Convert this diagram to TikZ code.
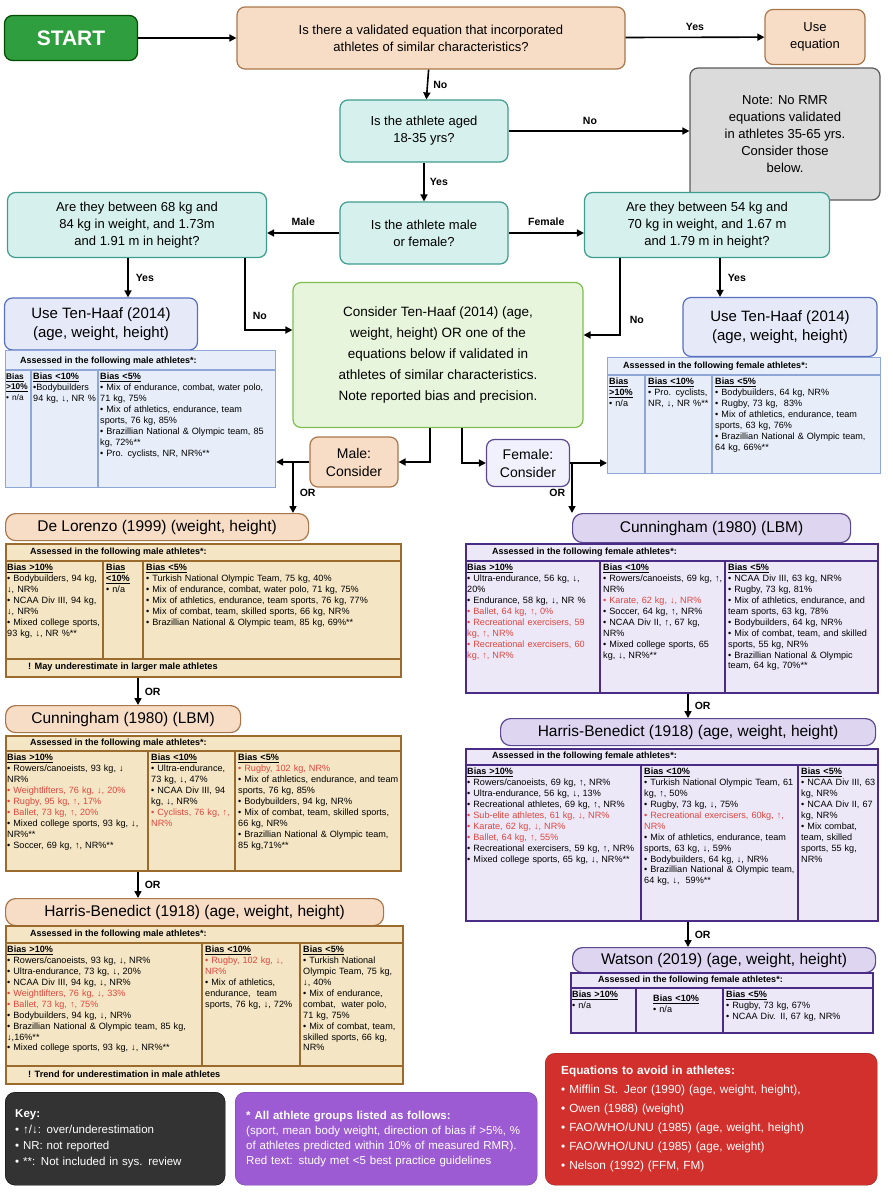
\documentclass[tikz,border=0pt]{standalone}
\usepackage{fontspec}
\setmainfont{Liberation Sans}
\usetikzlibrary{arrows.meta,calc}
\definecolor{bluefill}{HTML}{E8EEF9}\definecolor{bluedraw}{HTML}{8EA6D8}
\definecolor{begfill}{HTML}{F4E6C4}\definecolor{begdraw}{HTML}{9A6B2D}
\definecolor{purfill}{HTML}{ECE8F7}\definecolor{purdraw}{HTML}{4A2C86}
\definecolor{orfill}{HTML}{F7DDC6}\definecolor{ordraw}{HTML}{A9764A}
\definecolor{ptfill}{HTML}{DED6F1}\definecolor{ptdraw}{HTML}{5C4791}
\definecolor{tealfill}{HTML}{D6F1ED}\definecolor{tealdraw}{HTML}{3E9C8E}
\definecolor{grfill}{HTML}{E8F5DD}\definecolor{grdraw}{HTML}{7DBE4E}
\definecolor{utfill}{HTML}{E5E9F8}\definecolor{utdraw}{HTML}{5870C0}
\definecolor{redt}{HTML}{E0463F}
\definecolor{pkfill}{HTML}{9C5BD3}\definecolor{avfill}{HTML}{D1302C}
\definecolor{stfill}{HTML}{2F9E3F}
\newcommand\biashd[1]{\underline{\textbf{#1}}}
\newcommand\redtx[1]{\textcolor{redt}{#1}}
\newcommand\cellfnt{\fontsize{9.1}{10.9}\selectfont\hyphenpenalty=10000\relax}
\begin{document}
\begin{tikzpicture}[x=1pt,y=-1pt,
 arr/.style={-{Triangle[length=7pt,width=7pt]},line width=1.6pt,black},
 box/.style={draw,rounded corners=8pt,line width=1.2pt,align=center,font=\fontsize{13}{17}\selectfont,inner sep=2pt},
 lab/.style={font=\bfseries\fontsize{10.5}{12}\selectfont,inner sep=1pt},
 ttl/.style={box,rounded corners=10pt,font=\fontsize{15.5}{18}\selectfont,anchor=north west},
 tbl/.style={draw,anchor=north west,inner sep=0pt},
 hdr/.style={anchor=west,font=\bfseries\fontsize{9}{10}\selectfont,inner sep=0pt},
 cell/.style={anchor=north west,align=left,font=\cellfnt,inner sep=1pt,text width=#1},
 note/.style={anchor=west,font=\bfseries\fontsize{9.2}{10}\selectfont,inner sep=0pt}]
\useasboundingbox (0,0) rectangle (893,1200);
% top nodes
\node[box,fill=stfill,draw=green!30!black,minimum width=133,minimum height=45,text=white,font=\bfseries\fontsize{21}{24}\selectfont] (start) at (71,38) {START};
\node[box,fill=orfill,draw=ordraw,minimum width=388,minimum height=62] (q1) at (431,38) {Is there a validated equation that incorporated\\athletes of similar characteristics?};
\node[box,fill=orfill,draw=ordraw,minimum width=100,minimum height=55] (ueq) at (815,37) {Use\\equation};
\node[box,fill=tealfill,draw=tealdraw,minimum width=168,minimum height=62] (q2) at (424,131) {Is the athlete aged\\18-35 yrs?};
\node[box,fill=gray!28,draw=gray!70!black,minimum width=190,minimum height=132] (nt) at (785,134) {Note: No RMR\\equations validated\\in athletes 35-65 yrs.\\Consider those\\below.};
\node[box,fill=tealfill,draw=tealdraw,minimum width=168,minimum height=62] (q3) at (424,233) {Is the athlete male\\or female?};
\node[box,fill=tealfill,draw=tealdraw,minimum width=259,minimum height=65] (m) at (137,225) {Are they between 68 kg and\\84 kg in weight, and 1.73m\\and 1.91 m in height?};
\node[box,fill=tealfill,draw=tealdraw,minimum width=245,minimum height=65] (f) at (707,225) {Are they between 54 kg and\\70 kg in weight, and 1.67 m\\and 1.79 m in height?};
\node[box,fill=utfill,draw=utdraw,minimum width=193,minimum height=52,font=\fontsize{15}{19}\selectfont] (uthm) at (101,324) {Use Ten-Haaf (2014)\\(age, weight, height)};
\node[box,fill=utfill,draw=utdraw,minimum width=194,minimum height=59,font=\fontsize{15}{19}\selectfont] (uthf) at (780,327) {Use Ten-Haaf (2014)\\(age, weight, height)};
\node[box,fill=grfill,draw=grdraw,minimum width=290,minimum height=145,font=\fontsize{13.5}{21}\selectfont] (c) at (438,355) {Consider Ten-Haaf (2014) (age,\\weight, height) OR one of the\\equations below if validated in\\athletes of similar characteristics.\\Note reported bias and precision.};
\node[box,fill=orfill,draw=ordraw,minimum width=88,minimum height=50,font=\fontsize{14}{18}\selectfont] (mc) at (354,462) {Male:\\Consider};
\node[box,fill=utfill!80!blue!20,draw=ptdraw,minimum width=83,minimum height=47,font=\fontsize{14}{18}\selectfont] (fc) at (528,463) {Female:\\Consider};
% top arrows
\draw[arr] (start) -- (q1);
\draw[arr] (q1) -- node[lab,above=5pt]{Yes} (ueq);
\draw[arr] (q1) -- node[lab,right=4pt]{No} (q2);
\draw[arr] (q2) -- node[lab,above=5pt,pos=0.45]{No} (nt.west|-q2.east);
\draw[arr] (q2) -- node[lab,right=4pt]{Yes} (q3);
\draw[arr] (q3.west) -- node[lab,above=6pt]{Male} (q3.west-|m.east);
\draw[arr] (q3.east) -- node[lab,above=6pt]{Female} (q3.east-|f.west);
\coordinate (mx) at (128,0);\coordinate (mno) at (245,330);
\coordinate (fx) at (720,0);\coordinate (fno) at (620,335);
\draw[arr] (m.south-|mx) -- node[lab,right=6pt]{Yes} (uthm.north-|mx);
\draw[arr] (f.south-|fx) -- node[lab,right=6pt]{Yes} (uthf.north-|fx);
\draw[arr] (m.south-|mno) |- node[lab,pos=0.4,right=6pt]{No} (c.west|-mno);
\draw[arr] (f.south-|fno) |- node[lab,pos=0.4,right=8pt]{No} (c.east|-fno);
\coordinate (c1) at (430,0);\coordinate (c2) at (462,0);
\draw[arr] (c.south-|c1) |- (mc.east);
\draw[arr] (c.south-|c2) |- (fc.west);
% Ten-Haaf male table
\node[tbl,fill=bluefill,draw=bluedraw,line width=1.2pt,minimum width=270,minimum height=137] (t1) at (5,350) {};
\draw[bluedraw,line width=1.2pt] (5,370)--(275,370) (31,370)--(31,487) (98,370)--(98,487);
\node[hdr] (t1h) at (20,361) {Assessed in the following male athletes*:};
\node[cell=25] (t1a) at (5,372) {\fontsize{8.3}{10}\selectfont\biashd{Bias}\\\biashd{>10\%}\\• n/a};
\node[cell=66] (t1b) at (32,372) {\biashd{Bias <10\%}\\•Bodybuilders 94 kg, ↓, NR \%};
\node[cell=172] (t1c) at (99,372) {\biashd{Bias <5\%}\\• Mix of endurance, combat, water polo, 71 kg, 75\%\\• Mix of athletics, endurance, team sports, 76 kg, 85\%\\• Brazillian National \& Olympic team, 85 kg, 72\%**\\• Pro. cyclists, NR, NR\%**};
% Ten-Haaf female table
\node[tbl,fill=bluefill,draw=bluedraw,line width=1.2pt,minimum width=273,minimum height=116] (t2) at (607,357) {};
\draw[bluedraw,line width=1.2pt] (607,375)--(880,375) (645,375)--(645,473) (712,375)--(712,473);
\node[hdr] (t2h) at (623,366) {Assessed in the following female athletes*:};
\node[cell=36] (t2a) at (608,377) {\biashd{Bias}\\\biashd{>10\%}\\• n/a};
\node[cell=64] (t2b) at (647,377) {\biashd{Bias <10\%}\\• Pro. cyclists, NR, ↓, NR \%**};
\node[cell=163] (t2c) at (714,377) {\biashd{Bias <5\%}\\• Bodybuilders, 64 kg, NR\%\\• Rugby, 73 kg,\ \ 83\%\\• Mix of athletics, endurance, team sports, 63 kg, 76\%\\• Brazillian National \& Olympic team, 64 kg, 66\%**};
\draw[arr] (mc.west) -- (mc.west-|t1.east);
\draw[arr] (fc.east) -- (fc.east-|t2.west);
% Left chain
\node[ttl,fill=orfill,draw=ordraw,minimum width=303,minimum height=27] (dlt) at (5,513) {De Lorenzo (1999) (weight, height)};
\coordinate (orl) at (293,462);\coordinate (orr) at (572,463);
\draw[arr] (orl) -- node[lab,right=5pt,pos=0.6]{OR} (orl|-dlt.north);
\node[tbl,fill=begfill,draw=begdraw,line width=2pt,minimum width=395,minimum height=133] (dl) at (5,543) {};
\draw[begdraw,line width=2pt] (5,561)--(400,561) (5,659)--(400,659) (103,561)--(103,659) (143,561)--(143,659);
\node[hdr] (dlh) at (30,552) {Assessed in the following male athletes*:};
\node[cell=95] (dla) at (6,563) {\biashd{Bias >10\%}\\• Bodybuilders, 94 kg, ↓, NR\%\\• NCAA Div III, 94 kg, ↓, NR\%\\• Mixed college sports, 93 kg, ↓, NR \%**};
\node[cell=37] (dlb) at (105,563) {\biashd{Bias}\\\biashd{<10\%}\\• n/a};
\node[cell=254] (dlc) at (145,563) {\biashd{Bias <5\%}\\• Turkish National Olympic Team, 75 kg, 40\%\\• Mix of endurance, combat, water polo, 71 kg, 75\%\\• Mix of athletics, endurance, team sports, 76 kg, 77\%\\• Mix of combat, team, skilled sports, 66 kg, NR\%\\• Brazillian National \& Olympic team, 85 kg, 69\%**};
\node[note] (dln) at (28,667) {! May underestimate in larger male athletes};
\node[ttl,fill=orfill,draw=ordraw,minimum width=235,minimum height=27] (cmt) at (5,705) {Cunningham (1980) (LBM)};
\coordinate (lx) at (138,0);
\draw[arr] (dl.south-|lx) -- node[lab,right=5pt]{OR} (cmt.north-|lx);
\node[tbl,fill=begfill,draw=begdraw,line width=2pt,minimum width=395,minimum height=135] (cm) at (5,735) {};
\draw[begdraw,line width=2pt] (5,751)--(400,751) (148,751)--(148,870) (235,751)--(235,870);
\node[hdr] (cmh) at (30,743) {Assessed in the following male athletes*:};
\node[cell=140] (cma) at (6,753) {\biashd{Bias >10\%}\\• Rowers/canoeists, 93 kg, ↓ NR\%\\\redtx{• Weightlifters, 76 kg, ↓, 20\%}\\\redtx{• Rugby, 95 kg, ↑, 17\%}\\\redtx{• Ballet, 73 kg, ↑, 20\%}\\• Mixed college sports, 93 kg, ↓, NR\%**\\• Soccer, 69 kg, ↑, NR\%**};
\node[cell=84] (cmb) at (150,753) {\biashd{Bias <10\%}\\• Ultra-endurance, 73 kg, ↓, 47\%\\• NCAA Div III, 94 kg, ↓, NR\%\\\redtx{• Cyclists, 76 kg, ↑, NR\%}};
\node[cell=162] (cmc) at (237,753) {\biashd{Bias <5\%}\\\redtx{• Rugby, 102 kg, NR\%}\\• Mix of athletics, endurance, and team sports, 76 kg, 85\%\\• Bodybuilders, 94 kg, NR\%\\• Mix of combat, team, skilled sports, 66 kg, NR\%\\• Brazillian National \& Olympic team, 85 kg,71\%**};
\node[ttl,fill=orfill,draw=ordraw,minimum width=378,minimum height=27] (hmt) at (5,898) {Harris-Benedict (1918) (age, weight, height)};
\draw[arr] (cm.south-|lx) -- node[lab,right=5pt]{OR} (hmt.north-|lx);
\node[tbl,fill=begfill,draw=begdraw,line width=2pt,minimum width=397,minimum height=158] (hm) at (5,925) {};
\draw[begdraw,line width=2pt] (5,943)--(402,943) (5,1066)--(402,1066) (202,943)--(202,1066) (300,943)--(300,1066);
\node[hdr] (hmh) at (30,934) {Assessed in the following male athletes*:};
\node[cell=194] (hma) at (6,945) {\biashd{Bias >10\%}\\• Rowers/canoeists, 93 kg, ↓, NR\%\\• Ultra-endurance, 73 kg, ↓, 20\%\\• NCAA Div III, 94 kg, ↓, NR\%\\\redtx{• Weightlifters, 76 kg, ↓, 33\%}\\\redtx{• Ballet, 73 kg, ↑, 75\%}\\• Bodybuilders, 94 kg, ↓, NR\%\\• Brazillian National \& Olympic team, 85 kg, ↓,16\%**\\• Mixed college sports, 93 kg, ↓, NR\%**};
\node[cell=94] (hmb) at (204,945) {\biashd{Bias <10\%}\\\redtx{• Rugby, 102 kg, ↓, NR\%}\\• Mix of athletics, endurance,\ \ team sports, 76 kg, ↓, 72\%};
\node[cell=99] (hmc) at (302,945) {\biashd{Bias <5\%}\\• Turkish National Olympic Team, 75 kg, ↓, 40\%\\• Mix of endurance, combat,\ \ water polo, 71 kg, 75\%\\• Mix of combat, team, skilled sports, 66 kg, NR\%};
\node[note] (hmn) at (28,1074) {! Trend for underestimation in male athletes};
% Right chain
\node[ttl,fill=ptfill,draw=ptdraw,minimum width=278,minimum height=29] (cft) at (572,513) {Cunningham (1980) (LBM)};
\draw[arr] (orr) -- node[lab,left=5pt,pos=0.6]{OR} (orr|-cft.north);
\node[tbl,fill=purfill,draw=purdraw,line width=2pt,minimum width=412,minimum height=149] (cf) at (465,543) {};
\draw[purdraw,line width=2pt] (465,561)--(877,561) (600,561)--(600,692) (725,561)--(725,692);
\node[hdr] (cfh) at (492,552) {Assessed in the following female athletes*:};
\node[cell=130] (cfa) at (466,563) {\biashd{Bias >10\%}\\• Ultra-endurance, 56 kg, ↓, 20\%\\• Endurance, 58 kg, ↓, NR \%\\\redtx{• Ballet, 64 kg, ↑, 0\%}\\\redtx{• Recreational exercisers, 59 kg, ↑, NR\%}\\\redtx{• Recreational exercisers, 60 kg, ↑, NR\%}};
\node[cell=121] (cfb) at (602,563) {\biashd{Bias <10\%}\\• Rowers/canoeists, 69 kg, ↑, NR\%\\\redtx{• Karate, 62 kg, ↓, NR\%}\\• Soccer, 64 kg, ↑, NR\%\\• NCAA Div II, ↑, 67 kg, NR\%\\• Mixed college sports, 65 kg, ↓, NR\%**};
\node[cell=148] (cfc) at (727,563) {\biashd{Bias <5\%}\\• NCAA Div III, 63 kg, NR\%\\• Rugby, 73 kg, 81\%\\• Mix of athletics, endurance, and team sports, 63 kg, 78\%\\• Bodybuilders, 64 kg, NR\%\\• Mix of combat, team, and skilled sports, 55 kg, NR\%\\• Brazillian National \& Olympic team, 64 kg, 70\%**};
\node[ttl,fill=ptfill,draw=ptdraw,minimum width=375,minimum height=27] (hft) at (500,718) {Harris-Benedict (1918) (age, weight, height)};
\coordinate (rx) at (688,0);
\draw[arr] (cf.south-|rx) -- node[lab,right=5pt]{OR} (hft.north-|rx);
\node[tbl,fill=purfill,draw=purdraw,line width=2pt,minimum width=412,minimum height=172] (hf) at (465,748) {};
\draw[purdraw,line width=2pt] (465,765)--(877,765) (641,765)--(641,920) (798,765)--(798,920);
\node[hdr] (hfh) at (492,756) {Assessed in the following female athletes*:};
\node[cell=172] (hfa) at (466,767) {\biashd{Bias >10\%}\\• Rowers/canoeists, 69 kg, ↑, NR\%\\• Ultra-endurance, 56 kg, ↓, 13\%\\• Recreational athletes, 69 kg, ↑, NR\%\\\redtx{• Sub-elite athletes, 61 kg, ↓, NR\%}\\\redtx{• Karate, 62 kg, ↓, NR\%}\\\redtx{• Ballet, 64 kg, ↑, 55\%}\\• Recreational exercisers, 59 kg, ↑, NR\%\\• Mixed college sports, 65 kg, ↓, NR\%**};
\node[cell=153] (hfb) at (643,767) {\biashd{Bias <10\%}\\• Turkish National Olympic Team, 61 kg, ↑, 50\%\\• Rugby, 73 kg, ↓, 75\%\\\redtx{• Recreational exercisers, 60kg, ↑, NR\%}\\• Mix of athletics, endurance, team sports, 63 kg, ↓, 59\%\\• Bodybuilders, 64 kg, ↓, NR\%\\• Brazillian National \& Olympic team, 64 kg, ↓,\ \ 59\%**};
\node[cell=76] (hfc) at (800,767) {\biashd{Bias <5\%}\\• NCAA Div III, 63 kg, NR\%\\• NCAA Div II, 67 kg, NR\%\\• Mix combat, team, skilled sports, 55 kg, NR\%};
\node[ttl,fill=ptfill,draw=ptdraw,minimum width=303,minimum height=25] (wt) at (572,947) {Watson (2019) (age, weight, height)};
\draw[arr] (hf.south-|rx) -- node[lab,right=5pt]{OR} (wt.north-|rx);
\node[tbl,fill=purfill,draw=purdraw,line width=2pt,minimum width=302,minimum height=60] (w) at (570,972) {};
\draw[purdraw,line width=2pt] (570,988)--(872,988) (636,988)--(636,1032) (723,988)--(723,1032);
\node[hdr] (wh) at (598,980) {Assessed in the following female athletes*:};
\node[cell=62] (wa) at (571,990) {\biashd{Bias >10\%}\\• n/a};
\node[cell=70] (wb) at (652,994) {\biashd{Bias <10\%}\\• n/a};
\node[cell=145] (wc) at (725,990) {\biashd{Bias <5\%}\\• Rugby, 73 kg, 67\%\\• NCAA Div. II, 67 kg, NR\%};
% bottom boxes
\node[draw=black,fill=black!80,rounded corners=10pt,text=white,anchor=north west,minimum width=220,minimum height=93,align=left,text width=200,font=\fontsize{11.5}{16}\selectfont] (key) at (5,1092) {\textbf{Key:}\\• ↑/↓: over/underestimation\\• NR: not reported\\• **: Not included in sys. review};
\node[draw=pkfill!70!black,fill=pkfill,rounded corners=10pt,text=white,anchor=north west,minimum width=302,minimum height=93,align=left,text width=280,font=\fontsize{11.5}{15}\selectfont] (pk) at (235,1092) {\textbf{* All athlete groups listed as follows:}\\(sport, mean body weight, direction of bias if >5\%, \% of athletes predicted within 10\% of measured RMR). Red text: study met <5 best practice guidelines};
\node[draw=avfill!70!black,fill=avfill,rounded corners=10pt,text=white,anchor=north west,minimum width=332,minimum height=132,align=left,text width=300,font=\fontsize{11.8}{19}\selectfont] (av) at (545,1053) {\textbf{Equations to avoid in athletes:}\\• Mifflin St. Jeor (1990) (age, weight, height),\\• Owen (1988) (weight)\\• FAO/WHO/UNU (1985) (age, weight, height)\\• FAO/WHO/UNU (1985) (age, weight)\\• Nelson (1992) (FFM, FM)};
\end{tikzpicture}
\end{document}
